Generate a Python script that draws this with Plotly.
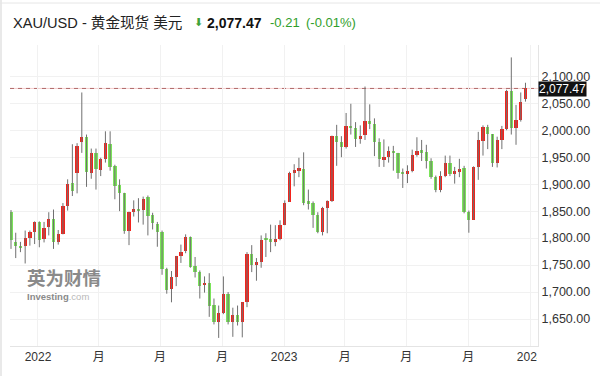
import plotly.graph_objects as go
import pandas as pd

# ---------------- data ----------------
first_week = "2021-11-22"
opens = [1849, 1792, 1786, 1786, 1800, 1811, 1830, 1799, 1820, 1836,
         1792, 1808, 1860, 1902, 1921, 1979, 1987, 1921, 1958, 1927,
         1947, 1975, 1934, 1899, 1884, 1814, 1848, 1854, 1852, 1876,
         1843, 1827, 1812, 1742, 1706, 1727, 1767, 1776, 1802, 1748,
         1738, 1713, 1717, 1676, 1645, 1662, 1696, 1645, 1657, 1645,
         1681, 1771, 1751, 1755, 1799, 1799, 1793, 1798, 1824, 1867,
         1920, 1926, 1929, 1867, 1865, 1842, 1811, 1856, 1868, 1989,
         1978, 1969, 2008, 2004, 1983, 1991, 2017, 2012, 1979, 1946,
         1950, 1961, 1958, 1921, 1919, 1925, 1955, 1962, 1959, 1943,
         1914, 1889, 1915, 1940, 1919, 1924, 1930, 1849, 1834, 1932,
         1980, 2006, 1993, 1940, 1981, 2002, 2072, 2004, 2019, 2057]
highs = [1852, 1810, 1793, 1814, 1814, 1831, 1831, 1830, 1848, 1853,
         1815, 1865, 1909, 1974, 1976, 2070, 1992, 1966, 1966, 1949,
         1998, 1998, 1936, 1909, 1884, 1849, 1870, 1874, 1877, 1879,
         1847, 1830, 1814, 1745, 1739, 1767, 1788, 1807, 1803, 1765,
         1740, 1729, 1735, 1688, 1675, 1729, 1700, 1671, 1675, 1681,
         1774, 1787, 1763, 1805, 1809, 1825, 1824, 1833, 1870, 1923,
         1937, 1949, 1959, 1890, 1868, 1848, 1858, 1870, 1990, 2010,
         1989, 2032, 2049, 2015, 2009, 2081, 2048, 2022, 1985, 1983,
         1970, 1971, 1958, 1929, 1935, 1964, 1987, 1982, 1973, 1948,
         1916, 1924, 1953, 1953, 1932, 1947, 1934, 1851, 1933, 1997,
         2009, 2010, 1993, 1988, 2008, 2075, 2135, 2047, 2070, 2088]
lows = [1780, 1763, 1774, 1753, 1786, 1789, 1783, 1792, 1805, 1780,
        1788, 1807, 1851, 1878, 1883, 1958, 1895, 1910, 1890, 1915,
        1940, 1925, 1872, 1850, 1808, 1787, 1840, 1829, 1825, 1805,
        1816, 1784, 1732, 1697, 1681, 1711, 1754, 1772, 1745, 1727,
        1688, 1699, 1654, 1640, 1615, 1659, 1640, 1617, 1638, 1616,
        1672, 1737, 1721, 1745, 1765, 1774, 1785, 1796, 1824, 1867,
        1896, 1913, 1861, 1853, 1819, 1809, 1805, 1809, 1867, 1934,
        1950, 1966, 1992, 1969, 1975, 1982, 2002, 1952, 1932, 1932,
        1940, 1925, 1910, 1893, 1902, 1922, 1951, 1943, 1929, 1910,
        1885, 1885, 1913, 1915, 1901, 1913, 1846, 1810, 1834, 1908,
        1953, 1965, 1932, 1931, 1965, 2000, 1992, 1973, 2016, 2053]
closes = [1796, 1786, 1782, 1800, 1811, 1829, 1797, 1818, 1835, 1792,
          1808, 1860, 1900, 1888, 1970, 1988, 1922, 1958, 1928, 1946,
          1976, 1932, 1897, 1884, 1813, 1848, 1854, 1850, 1872, 1841,
          1828, 1812, 1742, 1703, 1727, 1766, 1775, 1802, 1747, 1738,
          1712, 1717, 1675, 1644, 1661, 1696, 1644, 1657, 1645, 1681,
          1771, 1751, 1755, 1797, 1797, 1793, 1798, 1824, 1866, 1920,
          1926, 1929, 1865, 1865, 1842, 1811, 1856, 1868, 1989, 1978,
          1969, 2008, 2004, 1983, 1990, 2017, 2011, 1978, 1946, 1948,
          1961, 1958, 1921, 1919, 1925, 1955, 1962, 1959, 1943, 1914,
          1889, 1915, 1940, 1919, 1924, 1926, 1849, 1833, 1932, 1981,
          2006, 1993, 1940, 1981, 2002, 2072, 2004, 2019, 2053, 2077.47]

tick_dates = ["2022-01-01", "2022-04-01", "2022-07-01", "2022-10-01", "2023-01-01",
              "2023-04-01", "2023-07-01", "2023-10-01", "2024-01-01"]
tick_labels = ["2022", "月", "月", "月", "2023", "月", "月", "月", "2024"]
price_ticks = [1650, 1700, 1750, 1800, 1850, 1900, 1950, 2000, 2050, 2100]

last_price = 2077.47
title_name = "XAU/USD - 黄金现货 美元"
last_price_text = "2,077.47"
change_text = "-0.21"
change_pct_text = "(-0.01%)"

# ---------------- styling ----------------
UP = "#f3231c"
DOWN = "#7be45a"
WICK = "#707070"
W, H = 600, 376
ML, MR, MT, MB = 10, 62, 45, 30
PW, PH = W - ML - MR, H - MT - MB


def px(xp):
    return (xp - ML) / PW


def py(yp):
    return (H - MB - yp) / PH


dates = pd.date_range(first_week, periods=len(opens), freq="W-MON")

wx, wy = [], []
for d, lo, hi in zip(dates, lows, highs):
    wx += [d, d, None]
    wy += [lo, hi, None]

body_base = [min(o, c) for o, c in zip(opens, closes)]
body_h = [max(abs(c - o), 3.5) for o, c in zip(opens, closes)]
body_col = [UP if c >= o else DOWN for o, c in zip(opens, closes)]

fig = go.Figure()
fig.add_trace(go.Scatter(x=wx, y=wy, mode="lines", line=dict(color=WICK, width=1),
                         hoverinfo="skip", showlegend=False))
fig.add_trace(go.Bar(x=dates, y=body_h, base=body_base, marker=dict(color=body_col, line=dict(width=0)),
                     width=4.9 * 24 * 3600 * 1000, showlegend=False))

FONT = "Liberation Sans, Arial, Noto Sans CJK SC, sans-serif"

fig.update_layout(
    width=W, height=H,
    margin=dict(l=ML, r=MR, t=MT, b=MB),
    paper_bgcolor="white", plot_bgcolor="white",
    bargap=0, showlegend=False,
    font=dict(family=FONT, size=12, color="#333333"),
    xaxis=dict(type="date", range=["2021-11-20 12:00", "2024-01-12 14:00"],
               tickvals=tick_dates, ticktext=tick_labels, tickangle=0,
               showgrid=True, gridcolor="#f1f1f1", gridwidth=1,
               showline=True, linecolor="#e4e4e4", linewidth=1,
               ticks="", tickfont=dict(size=12, color="#333333"),
               zeroline=False, fixedrange=True),
    yaxis=dict(side="right", range=[1600, 2158], tickvals=price_ticks, tickformat=",.2f",
               showgrid=True, gridcolor="#f1f1f1", gridwidth=1,
               showline=True, linecolor="#e4e4e4", linewidth=1,
               ticks="", tickfont=dict(size=12.5, color="#333333"),
               zeroline=False, fixedrange=True),
)

shapes = [
    # current price line
    dict(type="line", xref="paper", x0=0, x1=1, yref="y", y0=last_price, y1=last_price,
         line=dict(color="#f6cfcf", width=1), layer="between"),
    dict(type="line", xref="paper", x0=0, x1=1, yref="y", y0=last_price, y1=last_price,
         line=dict(color="#b06a6a", width=1, dash="4px,4px"), layer="between"),
    # hide the clipped part of the last x label
    dict(type="rect", xref="paper", x0=px(537), x1=px(560), yref="paper", y0=py(372), y1=py(350),
         fillcolor="white", line=dict(width=0), layer="above"),
    # page edges
    dict(type="rect", xref="paper", x0=px(0), x1=px(2), yref="paper", y0=py(376), y1=py(0),
         fillcolor="#e9e9e9", line=dict(width=0), layer="above"),
    dict(type="line", xref="paper", x0=px(0), x1=px(600), yref="paper", y0=py(3), y1=py(3),
         line=dict(color="#e6e6e6", width=1), layer="above"),
]
fig.update_layout(shapes=shapes)

ann = [
    dict(text=title_name, x=px(11), y=py(23), xanchor="left", yanchor="middle",
         font=dict(size=14.6, color="#222222", family=FONT)),
    dict(text="⬇", x=px(192), y=py(23), xanchor="left", yanchor="middle",
         font=dict(size=11, color="#3ea33a", family="DejaVu Sans")),
    dict(text="<b>" + last_price_text + "</b>", x=px(205), y=py(23), xanchor="left", yanchor="middle",
         font=dict(size=14, color="#111111", family=FONT)),
    dict(text=change_text, x=px(268), y=py(23), xanchor="left", yanchor="middle",
         font=dict(size=13, color="#2f9e2a", family=FONT)),
    dict(text=change_pct_text, x=px(304), y=py(23), xanchor="left", yanchor="middle",
         font=dict(size=13, color="#2f9e2a", family=FONT)),
    # last price tag
    dict(text=last_price_text, xref="paper", x=1, yref="y", y=last_price, xanchor="left", yanchor="middle",
         xshift=0, yshift=-1, bgcolor="#111111", borderpad=0,
         font=dict(size=12, color="white", family=FONT)),
    # watermark
    dict(text="<b>英为财情</b>", x=px(25), y=py(277), xanchor="left", yanchor="middle",
         font=dict(size=18.5, color="#8a8a8a", family="Noto Sans CJK SC")),
    dict(text="<b>Investing</b><span style='color:#b8b8b8'>.com</span>", x=px(25), y=py(296),
         xanchor="left", yanchor="middle",
         font=dict(size=9.5, color="#8a8a8a", family=FONT)),
]
for a in ann:
    a.setdefault("xref", "paper")
    a.setdefault("yref", "paper")
    a["showarrow"] = False
fig.update_layout(annotations=ann)

fig.write_html("out.html", config={"displayModeBar": False},
               post_script="document.body.style.margin='0';")
